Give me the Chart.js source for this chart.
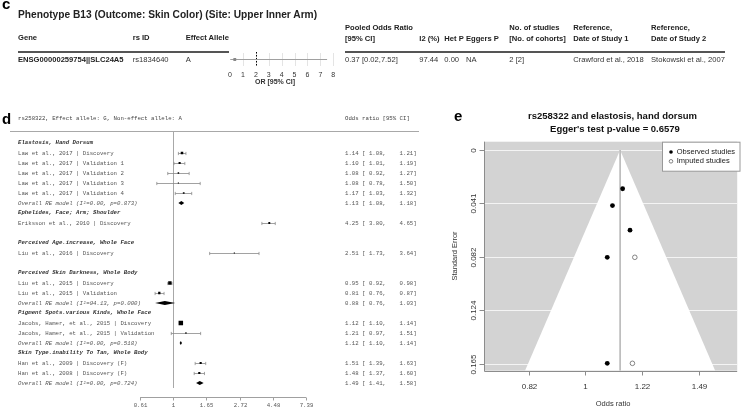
<!DOCTYPE html>
<html>
<head>
<meta charset="utf-8">
<script src="https://cdn.jsdelivr.net/npm/chart.js@4.4.0/dist/chart.umd.min.js"></script>
<style>
  html, body { margin: 0; padding: 0; background: #fff; }
  #fig { position: relative; width: 742px; height: 414px; overflow: hidden;
         font-family: "Liberation Sans", Arial, sans-serif; color: #333; }
  #fig canvas { position: absolute; left: 0; top: 0; }
  .t { position: absolute; white-space: nowrap; line-height: 10px; font-size: 7.6px; }
  .b { font-weight: bold; color: #222; }
  .panel { position: absolute; font-weight: bold; font-size: 15px; line-height: 15px; color: #000; }
  .rule { position: absolute; height: 2px; background: #555; }
</style>
</head>
<body>
<div id="fig">
  <canvas id="forest" width="742" height="414"></canvas>
  <canvas id="funnel" width="742" height="414"></canvas>
  <canvas id="mini" width="742" height="414"></canvas>

  <div class="panel" style="left:2px;top:-4px">c</div>
  <div class="panel" style="left:2px;top:111px">d</div>
  <div class="panel" style="left:454px;top:108px">e</div>

  <div class="t b" style="left:18px;top:10px;font-size:10.2px">Phenotype B13 (Outcome: Skin Color) (Site: Upper Inner Arm)</div>
  <div class="t b" style="left:18px;top:33px">Gene</div>
  <div class="t b" style="left:132.7px;top:33px">rs ID</div>
  <div class="t b" style="left:185.7px;top:33px">Effect Allele</div>
  <div class="t b" style="left:345px;top:23px">Pooled Odds Ratio</div>
  <div class="t b" style="left:345px;top:34px">[95% CI]</div>
  <div class="t b" style="left:419.3px;top:34px">I2 (%)</div>
  <div class="t b" style="left:444.3px;top:34px">Het P</div>
  <div class="t b" style="left:466px;top:34px">Eggers P</div>
  <div class="t b" style="left:509.3px;top:23px">No. of studies</div>
  <div class="t b" style="left:509.3px;top:34px">[No. of cohorts]</div>
  <div class="t b" style="left:573.3px;top:23px">Reference,</div>
  <div class="t b" style="left:573.3px;top:34px">Date of Study 1</div>
  <div class="t b" style="left:651px;top:23px">Reference,</div>
  <div class="t b" style="left:651px;top:34px">Date of Study 2</div>

  <div class="rule" style="left:18px;top:51px;width:211px"></div>
  <div class="rule" style="left:345px;top:51px;width:380px"></div>

  <div class="t b" style="left:18px;top:55px">ENSG00000259754||SLC24A5</div>
  <div class="t" style="left:132.7px;top:55px">rs1834640</div>
  <div class="t" style="left:185.7px;top:55px">A</div>
  <div class="t" style="left:345px;top:55px">0.37 [0.02,7.52]</div>
  <div class="t" style="left:419.3px;top:55px">97.44</div>
  <div class="t" style="left:444.3px;top:55px">0.00</div>
  <div class="t" style="left:466px;top:55px">NA</div>
  <div class="t" style="left:509.3px;top:55px">2 [2]</div>
  <div class="t" style="left:573.3px;top:55px">Crawford et al., 2018</div>
  <div class="t" style="left:651px;top:55px">Stokowski et al., 2007</div>
</div>

<script>
// ---- panel c: pooled estimate for rs1834640 ----
const cOr = [0.37];
const cLo = [0.02];
const cHi = [7.52];
const cTicks = [0, 1, 2, 3, 4, 5, 6, 7, 8];
const cRef = 2;

// ---- panel d: forest plot for rs258322 ----
const dHeader = 'rs258322, Effect allele: G, Non-effect allele: A';
const dLabels = [
  'Elastosis, Hand Dorsum',
  'Law et al., 2017 | Discovery',
  'Law et al., 2017 | Validation 1',
  'Law et al., 2017 | Validation 2',
  'Law et al., 2017 | Validation 3',
  'Law et al., 2017 | Validation 4',
  'Overall RE model (I\u00B2=0.00, p=0.873)',
  'Ephelides, Face; Arm; Shoulder',
  'Eriksson et al., 2010 | Discovery',
  '',
  'Perceived Age.increase, Whole Face',
  'Liu et al., 2016 | Discovery',
  '',
  'Perceived Skin Darkness, Whole Body',
  'Liu et al., 2015 | Discovery',
  'Liu et al., 2015 | Validation',
  'Overall RE model (I\u00B2=94.13, p=0.000)',
  'Pigment Spots.various Kinds, Whole Face',
  'Jacobs, Hamer, et al., 2015 | Discovery',
  'Jacobs, Hamer, et al., 2015 | Validation',
  'Overall RE model (I\u00B2=0.00, p=0.518)',
  'Skin Type.inability To Tan, Whole Body',
  'Han et al., 2009 | Discovery (F)',
  'Han et al., 2008 | Discovery (F)',
  'Overall RE model (I\u00B2=0.00, p=0.724)'
];
const dKind = [
  'group', 'study', 'study', 'study', 'study', 'study', 'overall',
  'group', 'study', 'blank',
  'group', 'study', 'blank',
  'group', 'study', 'study', 'overall',
  'group', 'study', 'study', 'overall',
  'group', 'study', 'study', 'overall'
];
const dOr = [null, 1.14, 1.10, 1.08, 1.08, 1.17, 1.13, null, 4.25, null, null, 2.51, null,
             null, 0.95, 0.81, 0.88, null, 1.12, 1.21, 1.12, null, 1.51, 1.48, 1.49];
const dLo = [null, 1.08, 1.01, 0.92, 0.78, 1.03, 1.08, null, 3.80, null, null, 1.73, null,
             null, 0.92, 0.76, 0.76, null, 1.10, 0.97, 1.10, null, 1.39, 1.37, 1.41];
const dHi = [null, 1.21, 1.19, 1.27, 1.50, 1.32, 1.18, null, 4.65, null, null, 3.64, null,
             null, 0.98, 0.87, 1.03, null, 1.14, 1.51, 1.14, null, 1.63, 1.60, 1.58];
const dTickVals = [0.6065, 1, 1.6487, 2.7183, 4.4817, 7.3891];
const dTickLabels = ['0.61', '1', '1.65', '2.72', '4.48', '7.39'];

// ---- panel e: funnel plot, elastosis ----
const eObsOr = [1.14, 1.10, 1.17, 1.08, 1.08];
const eObsSe = [0.030, 0.043, 0.062, 0.083, 0.165];
const eImpOr = [1.19, 1.18];
const eImpSe = [0.083, 0.165];
const ePooled = 1.13;
const eSeTicks = [0, 0.0413, 0.0826, 0.1239, 0.1652];
const eSeLabels = ['0', '0.041', '0.082', '0.124', '0.165'];
const eOrTicks = [0.8187, 1, 1.2214, 1.4918];
const eOrLabels = ['0.82', '1', '1.22', '1.49'];

const SANS = '"Liberation Sans", Arial, sans-serif';
const MONO = '"Liberation Mono", "DejaVu Sans Mono", monospace';

function seg(ctx, x1, y1, x2, y2) {
  ctx.beginPath();
  ctx.moveTo(x1, y1);
  ctx.lineTo(x2, y2);
  ctx.stroke();
}
const fmt = v => v.toFixed(2);
const crisp = v => Math.round(v) + 0.5;

// ---------- panel c mini forest ----------
const miniDraw = {
  id: 'miniDraw',
  beforeDatasetsDraw(chart) {
    const { ctx, chartArea: a, scales: { x } } = chart;
    ctx.save();
    ctx.strokeStyle = '#e4e4e4';
    ctx.lineWidth = 1;
    cTicks.slice(1).forEach(t => {
      const px = crisp(x.getPixelForValue(t));
      seg(ctx, px, a.top + 1, px, a.bottom - 1);
    });
    ctx.strokeStyle = '#000';
    ctx.setLineDash([1.5, 1.5]);
    const rx = crisp(x.getPixelForValue(cRef));
    seg(ctx, rx, a.top, rx, a.bottom);
    ctx.restore();
  },
  afterDraw(chart) {
    const { ctx, scales: { x } } = chart;
    ctx.save();
    ctx.fillStyle = '#333';
    ctx.textAlign = 'center';
    ctx.textBaseline = 'middle';
    ctx.font = '7px ' + SANS;
    cTicks.forEach(t => ctx.fillText(String(t), x.getPixelForValue(t), 75));
    ctx.font = 'bold 7px ' + SANS;
    ctx.fillText('OR [95% CI]', 275, 82);
    ctx.restore();
  }
};

new Chart(document.getElementById('mini'), {
  type: 'scatter',
  data: {
    datasets: [
      {
        data: cOr.map((v, i) => ({ x: v, y: i })),
        pointStyle: 'rect',
        pointRadius: 2,
        backgroundColor: '#888',
        borderWidth: 0,
        order: 0
      },
      {
        type: 'line',
        data: [{ x: cLo[0], y: 0 }, { x: cHi[0], y: 0 }],
        borderColor: '#a0a0a0',
        borderWidth: 1,
        pointRadius: 0,
        order: 1
      }
    ]
  },
  options: {
    responsive: false,
    animation: false,
    devicePixelRatio: 1,
    events: [],
    layout: { padding: { left: 230, right: 408.7, top: 52, bottom: 347 } },
    scales: {
      x: { type: 'linear', min: 0, max: 8, display: false },
      y: { type: 'linear', min: -1, max: 1, display: false }
    },
    plugins: { legend: { display: false }, tooltip: { enabled: false } }
  },
  plugins: [miniDraw]
});

// ---------- panel d forest ----------
const forestDraw = {
  id: 'forestDraw',
  beforeDatasetsDraw(chart) {
    const { ctx, scales: { x, y } } = chart;
    const mono = '5.7px ' + MONO;
    ctx.save();
    ctx.textBaseline = 'middle';
    ctx.fillStyle = '#444';
    ctx.font = mono;
    const hy = y.getPixelForValue(-2.5);
    ctx.fillText(dHeader, 18, hy);
    ctx.fillText('Odds ratio [95% CI]', 345, hy);

    ctx.strokeStyle = '#a8a8a8';
    ctx.lineWidth = 1;
    const ry = crisp(y.getPixelForValue(-1.2));
    seg(ctx, 10, ry, 419, ry);
    const x1 = crisp(x.getPixelForValue(1));
    seg(ctx, x1, ry, x1, y.getPixelForValue(24.5));

    dLabels.forEach((lab, i) => {
      const kind = dKind[i];
      const py = y.getPixelForValue(i);
      ctx.fillStyle = kind === 'group' ? '#333' : '#555';
      ctx.font = (kind === 'group' ? 'italic bold ' : kind === 'overall' ? 'italic ' : '') + mono;
      ctx.fillText(lab, 18, py);
      if (dOr[i] == null) return;
      ctx.font = mono;
      ctx.fillStyle = '#555';
      ctx.fillText(fmt(dOr[i]) + ' [ ' + fmt(dLo[i]) + ',    ' + fmt(dHi[i]) + ']', 345, py);

      const xl = x.getPixelForValue(dLo[i]);
      const xh = x.getPixelForValue(dHi[i]);
      const xm = x.getPixelForValue(dOr[i]);
      if (kind === 'study') {
        const cy = crisp(py);
        ctx.strokeStyle = '#8a8a8a';
        ctx.lineWidth = 0.8;
        seg(ctx, xl, cy, xh, cy);
        seg(ctx, xl, cy - 1.6, xl, cy + 1.6);
        seg(ctx, xh, cy - 1.6, xh, cy + 1.6);
      } else {
        ctx.fillStyle = '#000';
        ctx.beginPath();
        ctx.moveTo(xl, py);
        ctx.lineTo(xm, py - 2.1);
        ctx.lineTo(xh, py);
        ctx.lineTo(xm, py + 2.1);
        ctx.closePath();
        ctx.fill();
      }
    });

    // bottom axis
    const ay = crisp(y.getPixelForValue(25.4));
    ctx.strokeStyle = '#a0a0a0';
    ctx.lineWidth = 1;
    seg(ctx, x.getPixelForValue(dTickVals[0]), ay, x.getPixelForValue(dTickVals[dTickVals.length - 1]), ay);
    ctx.fillStyle = '#555';
    ctx.font = mono;
    ctx.textAlign = 'center';
    dTickVals.forEach((v, k) => {
      const px = crisp(x.getPixelForValue(v));
      seg(ctx, px, ay, px, ay + 3);
      ctx.fillText(dTickLabels[k], px, y.getPixelForValue(26.2));
    });
    ctx.restore();
  }
};

// square size follows study precision (narrower CI -> larger box)
function boxRadius(ctx) {
  const p = ctx.raw;
  if (!p) return 1;
  const w = Math.log(p.hi) - Math.log(p.lo);
  const side = Math.max(1.2, Math.min(5, 0.85 / Math.sqrt(w)));
  return side / Math.SQRT2;
}

const studyPts = [];
dOr.forEach((v, i) => {
  if (dKind[i] === 'study') studyPts.push({ x: v, y: i, lo: dLo[i], hi: dHi[i] });
});

new Chart(document.getElementById('forest'), {
  type: 'scatter',
  data: {
    datasets: [{
      data: studyPts,
      pointStyle: 'rect',
      pointRadius: boxRadius,
      backgroundColor: '#000',
      borderWidth: 0
    }]
  },
  options: {
    responsive: false,
    animation: false,
    devicePixelRatio: 1,
    events: [],
    layout: { padding: { left: 139.4, right: 436, top: 133, bottom: 22 } },
    scales: {
      x: { type: 'logarithmic', min: dTickVals[0], max: dTickVals[dTickVals.length - 1], display: false },
      y: { type: 'linear', reverse: true, min: -1, max: 24.9, display: false }
    },
    plugins: { legend: { display: false }, tooltip: { enabled: false } }
  },
  plugins: [forestDraw]
});

// ---------- panel e funnel ----------
const eSeMax = 0.1707;
const funnelDraw = {
  id: 'funnelDraw',
  beforeDatasetsDraw(chart) {
    const { ctx, chartArea: a, scales: { y } } = chart;
    ctx.save();
    ctx.fillStyle = '#d3d3d3';
    ctx.fillRect(a.left, a.top, a.right - a.left, a.bottom - a.top);
    ctx.strokeStyle = '#f4f4f4';
    ctx.lineWidth = 1;
    eSeTicks.forEach(v => {
      const py = crisp(y.getPixelForValue(v));
      seg(ctx, a.left, py, a.right, py);
    });
    ctx.restore();
  },
  afterDraw(chart) {
    const { ctx, chartArea: a, scales: { x, y } } = chart;
    ctx.save();
    ctx.strokeStyle = '#8c8c8c';
    ctx.lineWidth = 1;
    const lx = crisp(a.left), by = crisp(a.bottom);
    seg(ctx, lx, a.top, lx, by);
    seg(ctx, lx, by, a.right, by);

    ctx.fillStyle = '#333';
    ctx.font = '8px ' + SANS;
    ctx.textBaseline = 'middle';
    ctx.textAlign = 'center';
    eSeTicks.forEach((v, k) => {
      const py = crisp(y.getPixelForValue(v));
      seg(ctx, lx - 5, py, lx, py);
      ctx.save();
      ctx.translate(lx - 11, py);
      ctx.rotate(-Math.PI / 2);
      ctx.fillText(eSeLabels[k], 0, 0);
      ctx.restore();
    });
    eOrTicks.forEach((v, k) => {
      const px = crisp(x.getPixelForValue(v));
      seg(ctx, px, by, px, by + 4);
      ctx.fillText(eOrLabels[k], px, by + 15);
    });

    ctx.font = '7.5px ' + SANS;
    ctx.fillText('Odds ratio', 613, 404);
    ctx.save();
    ctx.translate(455, 256);
    ctx.rotate(-Math.PI / 2);
    ctx.fillText('Standard Error', 0, 0);
    ctx.restore();

    ctx.fillStyle = '#111';
    ctx.font = 'bold 9.5px ' + SANS;
    ctx.fillText('rs258322 and elastosis, hand dorsum', 612.5, 116.7);
    ctx.fillText("Egger's test p-value = 0.6579", 615, 129);

    // legend
    ctx.fillStyle = '#fff';
    ctx.fillRect(662.5, a.top + 0.5, 77.5, 29);
    ctx.strokeStyle = '#999';
    ctx.strokeRect(662.5, a.top + 0.5, 77.5, 29);
    ctx.fillStyle = '#000';
    ctx.beginPath();
    ctx.arc(671, 152, 1.8, 0, Math.PI * 2);
    ctx.fill();
    ctx.fillStyle = '#fff';
    ctx.strokeStyle = '#666';
    ctx.lineWidth = 0.8;
    ctx.beginPath();
    ctx.arc(671, 161.3, 1.8, 0, Math.PI * 2);
    ctx.fill();
    ctx.stroke();
    ctx.fillStyle = '#222';
    ctx.textAlign = 'left';
    ctx.font = '7.5px ' + SANS;
    ctx.fillText('Observed studies', 676.7, 152);
    ctx.fillText('Imputed studies', 676.7, 161.3);
    ctx.restore();
  }
};

const lnP = Math.log(ePooled);
new Chart(document.getElementById('funnel'), {
  type: 'scatter',
  data: {
    datasets: [
      {
        data: eObsOr.map((v, i) => ({ x: v, y: eObsSe[i] })),
        pointRadius: 2.4,
        backgroundColor: '#000',
        borderWidth: 0,
        order: 0
      },
      {
        data: eImpOr.map((v, i) => ({ x: v, y: eImpSe[i] })),
        pointRadius: 2.3,
        backgroundColor: '#fff',
        borderColor: '#666',
        borderWidth: 0.8,
        order: 1
      },
      {
        type: 'line',
        data: [{ x: ePooled, y: 0 }, { x: ePooled, y: eSeMax }],
        borderColor: '#b8b8b8',
        borderWidth: 1.6,
        pointRadius: 0,
        order: 2
      },
      {
        type: 'line',
        data: [
          { x: Math.exp(lnP - 1.96 * eSeMax), y: eSeMax },
          { x: ePooled, y: 0 },
          { x: Math.exp(lnP + 1.96 * eSeMax), y: eSeMax }
        ],
        borderWidth: 0,
        borderColor: 'rgba(0,0,0,0)',
        backgroundColor: '#fff',
        fill: { value: eSeMax },
        pointRadius: 0,
        tension: 0,
        order: 3
      }
    ]
  },
  options: {
    responsive: false,
    animation: false,
    devicePixelRatio: 1,
    events: [],
    layout: { padding: { left: 484, right: 2, top: 141.7, bottom: 43.3 } },
    scales: {
      x: { type: 'logarithmic', min: 0.745, max: 1.706, display: false },
      y: { type: 'linear', reverse: true, min: -0.0064, max: eSeMax, display: false }
    },
    plugins: { legend: { display: false }, tooltip: { enabled: false } }
  },
  plugins: [funnelDraw]
});
</script>
</body>
</html>
